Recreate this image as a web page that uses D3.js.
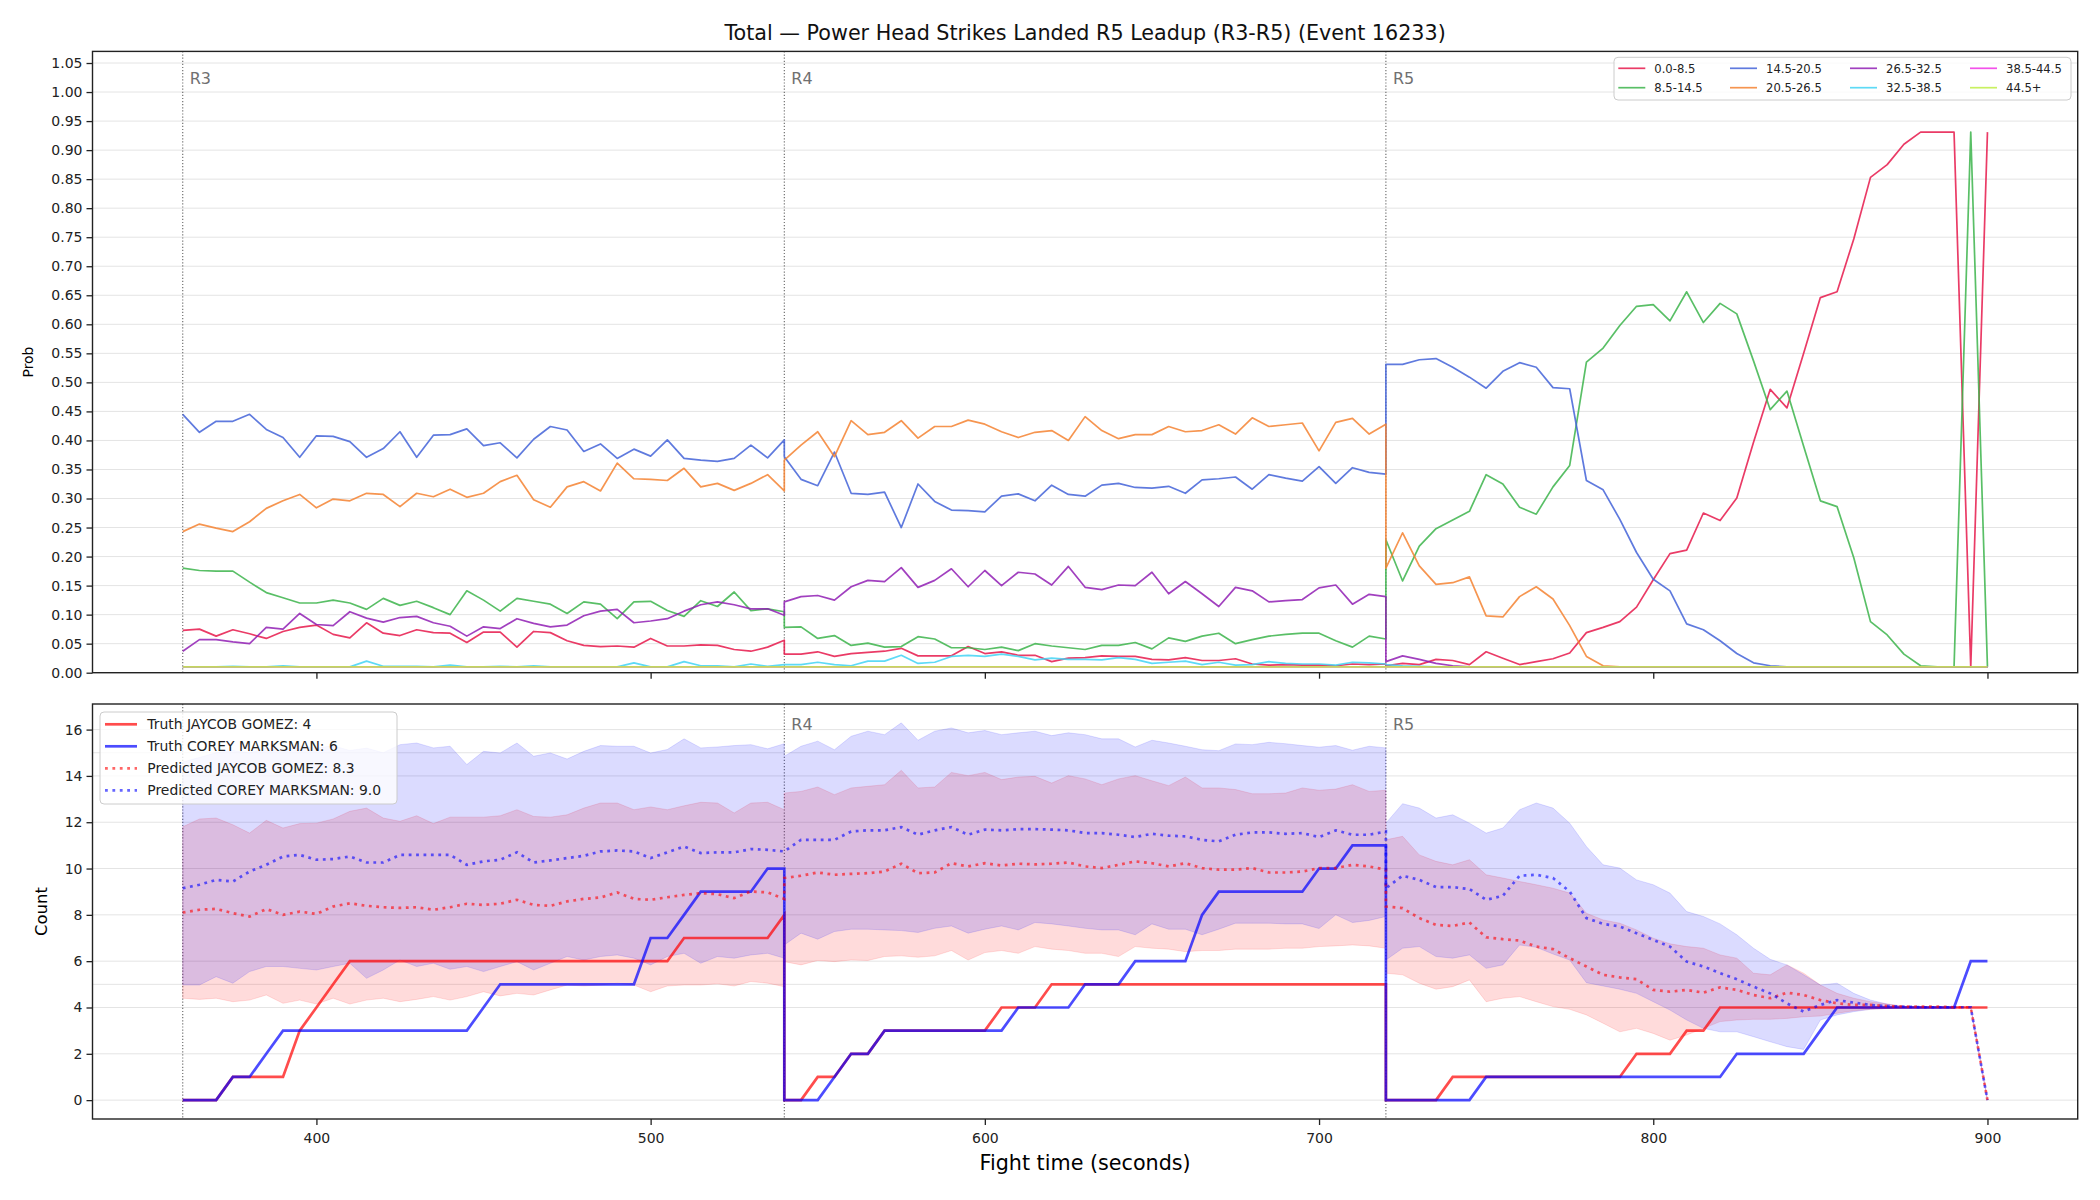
<!DOCTYPE html>
<html>
<head>
<meta charset="utf-8">
<script src="https://cdn.jsdelivr.net/npm/d3@7"></script>
<style>
  body { margin: 0; background: #fff; }
  svg { font-family: 'DejaVu Sans', sans-serif; }
  .grid line { stroke: #e4e4e4; stroke-width: 1; }
  .axis line { stroke: #222; stroke-width: 1.3; }
  .axis text { font-size: 14px; fill: #222; font-family: 'DejaVu Sans', sans-serif; }
  .frame { fill: none; stroke: #222; stroke-width: 1.4; }
  .round-line { stroke: #666; stroke-width: 1.1; stroke-dasharray: 1.2,1.9; }
  .round-label { font-size: 16px; fill: #707070; }
  .legend text { fill: #222; }
</style>
</head>
<body>
<svg id="chart"></svg>
<script>
// ---- sample times (every 5 s, each round restarts at its own boundary) ----
const roundNames = ['R3', 'R4', 'R5'];
const roundStarts = [360, 540, 720];
const timesR3 = [360, 365, 370, 375, 380, 385, 390, 395, 400, 405, 410, 415, 420, 425, 430, 435, 440, 445, 450,
  455, 460, 465, 470, 475, 480, 485, 490, 495, 500, 505, 510, 515, 520, 525, 530, 535, 540];
const timesR4 = [540, 545, 550, 555, 560, 565, 570, 575, 580, 585, 590, 595, 600, 605, 610, 615, 620, 625, 630,
  635, 640, 645, 650, 655, 660, 665, 670, 675, 680, 685, 690, 695, 700, 705, 710, 715, 720];
const timesR5 = [720, 725, 730, 735, 740, 745, 750, 755, 760, 765, 770, 775, 780, 785, 790, 795, 800, 805, 810,
  815, 820, 825, 830, 835, 840, 845, 850, 855, 860, 865, 870, 875, 880, 885, 890, 895, 900];
const times = [...timesR3, ...timesR4, ...timesR5];

const timeTicks = [400, 500, 600, 700, 800, 900];
const probTicks = [0, 0.05, 0.1, 0.15, 0.2, 0.25, 0.3, 0.35, 0.4, 0.45, 0.5, 0.55, 0.6, 0.65, 0.7, 0.75,
  0.8, 0.85, 0.9, 0.95, 1.0, 1.05];
const countTicks = [0, 2, 4, 6, 8, 10, 12, 14, 16];
const countExtraGrid = [5, 15];

// ---- top panel: probability per total bucket ----
const bucketLabels = ['0.0-8.5', '8.5-14.5', '14.5-20.5', '20.5-26.5', '26.5-32.5', '32.5-38.5', '38.5-44.5', '44.5+'];
const bucketColors = ['#e6194b', '#3cb44b', '#4363d8', '#f58231', '#911eb4', '#42d4f4', '#f032e6', '#bfef45'];

const prob_0_8 = [
  0.073, 0.075, 0.063, 0.074, 0.067, 0.059, 0.071, 0.078, 0.082, 0.066, 0.060, 0.086, 0.068, 0.064, 0.074, 0.069, 0.068, 0.052, 0.070,
  0.070, 0.044, 0.071, 0.069, 0.055, 0.047, 0.045, 0.046, 0.044, 0.059, 0.046, 0.046, 0.048, 0.047, 0.040, 0.037, 0.044, 0.056,
  0.032, 0.032, 0.036, 0.028, 0.033, 0.035, 0.037, 0.042, 0.029, 0.029, 0.029, 0.045, 0.033, 0.036, 0.030, 0.030, 0.019, 0.025, 0.026,
  0.029, 0.028, 0.028, 0.023, 0.022, 0.026, 0.021, 0.021, 0.024, 0.015, 0.013, 0.014, 0.013, 0.013, 0.012, 0.015, 0.014, 0.015,
  0.012, 0.016, 0.014, 0.023, 0.021, 0.014, 0.036, 0.025, 0.014, 0.019, 0.024, 0.034, 0.069, 0.078, 0.088, 0.113, 0.160, 0.205, 0.211,
  0.275, 0.262, 0.301, 0.397, 0.488, 0.456, 0.550, 0.646, 0.656, 0.747, 0.853, 0.875, 0.910, 0.931, 0.931, 0.931, 0.010, 0.931];
const prob_8_14 = [
  0.180, 0.176, 0.175, 0.175, 0.156, 0.138, 0.129, 0.120, 0.120, 0.125, 0.120, 0.109, 0.128, 0.116, 0.123, 0.112, 0.100, 0.141, 0.125,
  0.106, 0.128, 0.123, 0.118, 0.102, 0.122, 0.118, 0.093, 0.122, 0.123, 0.107, 0.097, 0.124, 0.114, 0.139, 0.107, 0.110, 0.105,
  0.078, 0.079, 0.059, 0.064, 0.047, 0.051, 0.044, 0.045, 0.062, 0.058, 0.043, 0.043, 0.040, 0.044, 0.038, 0.050, 0.046, 0.043, 0.040,
  0.047, 0.047, 0.052, 0.041, 0.060, 0.054, 0.063, 0.068, 0.050, 0.057, 0.063, 0.066, 0.068, 0.068, 0.055, 0.044, 0.063, 0.058,
  0.229, 0.158, 0.218, 0.248, 0.263, 0.278, 0.341, 0.325, 0.285, 0.273, 0.320, 0.357, 0.535, 0.559, 0.598, 0.631, 0.634, 0.606, 0.656,
  0.603, 0.636, 0.618, 0.537, 0.453, 0.485, 0.390, 0.296, 0.286, 0.198, 0.088, 0.065, 0.032, 0.012, 0.010, 0.010, 0.931, 0.010];
const prob_14_20 = [
  0.445, 0.414, 0.433, 0.433, 0.445, 0.419, 0.405, 0.371, 0.408, 0.407, 0.398, 0.371, 0.386, 0.415, 0.371, 0.409, 0.410, 0.420, 0.391,
  0.396, 0.370, 0.402, 0.424, 0.418, 0.381, 0.394, 0.369, 0.385, 0.373, 0.401, 0.369, 0.366, 0.364, 0.369, 0.392, 0.370, 0.401,
  0.372, 0.333, 0.322, 0.380, 0.309, 0.307, 0.311, 0.250, 0.325, 0.295, 0.280, 0.279, 0.277, 0.304, 0.308, 0.296, 0.323, 0.307, 0.304,
  0.323, 0.326, 0.319, 0.318, 0.321, 0.309, 0.332, 0.334, 0.337, 0.316, 0.341, 0.335, 0.330, 0.355, 0.326, 0.353, 0.345, 0.342,
  0.531, 0.531, 0.539, 0.541, 0.526, 0.509, 0.490, 0.519, 0.534, 0.526, 0.491, 0.489, 0.331, 0.315, 0.264, 0.207, 0.161, 0.141, 0.084,
  0.074, 0.055, 0.033, 0.017, 0.012, 0.010, 0.010, 0.010, 0.010, 0.010, 0.010, 0.010, 0.010, 0.010, 0.010, 0.010, 0.010, 0.010];
const prob_20_26 = [
  0.243, 0.256, 0.249, 0.243, 0.260, 0.283, 0.296, 0.307, 0.284, 0.299, 0.296, 0.309, 0.307, 0.286, 0.309, 0.303, 0.316, 0.302, 0.309,
  0.329, 0.340, 0.298, 0.285, 0.320, 0.329, 0.313, 0.361, 0.334, 0.333, 0.331, 0.352, 0.320, 0.326, 0.314, 0.326, 0.341, 0.313,
  0.366, 0.392, 0.415, 0.372, 0.434, 0.410, 0.414, 0.434, 0.404, 0.424, 0.424, 0.435, 0.428, 0.415, 0.405, 0.414, 0.417, 0.400, 0.441,
  0.417, 0.403, 0.410, 0.410, 0.424, 0.415, 0.417, 0.427, 0.411, 0.439, 0.424, 0.427, 0.430, 0.382, 0.431, 0.438, 0.411, 0.428,
  0.180, 0.241, 0.184, 0.152, 0.155, 0.165, 0.098, 0.096, 0.131, 0.148, 0.127, 0.081, 0.028, 0.012, 0.010, 0.010, 0.010, 0.010, 0.010,
  0.010, 0.010, 0.010, 0.010, 0.010, 0.010, 0.010, 0.010, 0.010, 0.010, 0.010, 0.010, 0.010, 0.010, 0.010, 0.010, 0.010, 0.010];
const prob_26_32 = [
  0.037, 0.057, 0.057, 0.053, 0.050, 0.078, 0.075, 0.102, 0.083, 0.081, 0.105, 0.094, 0.087, 0.095, 0.097, 0.086, 0.080, 0.063, 0.079,
  0.076, 0.093, 0.085, 0.079, 0.082, 0.098, 0.106, 0.109, 0.086, 0.089, 0.093, 0.106, 0.117, 0.122, 0.117, 0.110, 0.110, 0.099,
  0.122, 0.131, 0.133, 0.125, 0.148, 0.159, 0.157, 0.181, 0.147, 0.159, 0.179, 0.148, 0.176, 0.150, 0.173, 0.170, 0.151, 0.183, 0.147,
  0.143, 0.151, 0.150, 0.173, 0.136, 0.157, 0.136, 0.114, 0.147, 0.141, 0.122, 0.124, 0.126, 0.146, 0.151, 0.118, 0.135, 0.131,
  0.019, 0.029, 0.023, 0.016, 0.012, 0.010, 0.010, 0.010, 0.010, 0.010, 0.010, 0.010, 0.010, 0.010, 0.010, 0.010, 0.010, 0.010, 0.010,
  0.010, 0.010, 0.010, 0.010, 0.010, 0.010, 0.010, 0.010, 0.010, 0.010, 0.010, 0.010, 0.010, 0.010, 0.010, 0.010, 0.010, 0.010];
const prob_32_38 = [
  0.010, 0.010, 0.010, 0.011, 0.010, 0.010, 0.012, 0.010, 0.010, 0.010, 0.010, 0.020, 0.011, 0.011, 0.011, 0.010, 0.013, 0.010, 0.010,
  0.011, 0.010, 0.012, 0.010, 0.010, 0.010, 0.010, 0.010, 0.017, 0.010, 0.010, 0.019, 0.012, 0.012, 0.010, 0.015, 0.011, 0.014,
  0.014, 0.014, 0.018, 0.014, 0.012, 0.020, 0.020, 0.030, 0.016, 0.018, 0.028, 0.030, 0.028, 0.032, 0.028, 0.022, 0.025, 0.023, 0.023,
  0.022, 0.026, 0.023, 0.016, 0.018, 0.020, 0.014, 0.018, 0.013, 0.014, 0.019, 0.016, 0.015, 0.015, 0.013, 0.018, 0.017, 0.015,
  0.014, 0.012, 0.011, 0.010, 0.010, 0.010, 0.010, 0.010, 0.010, 0.010, 0.010, 0.010, 0.010, 0.010, 0.010, 0.010, 0.010, 0.010, 0.010,
  0.010, 0.010, 0.010, 0.010, 0.010, 0.010, 0.010, 0.010, 0.010, 0.010, 0.010, 0.010, 0.010, 0.010, 0.010, 0.010, 0.010, 0.010];
const prob_38_44 = [
  0.010, 0.010, 0.010, 0.010, 0.010, 0.010, 0.010, 0.010, 0.010, 0.010, 0.010, 0.010, 0.010, 0.010, 0.010, 0.010, 0.010, 0.010, 0.010,
  0.010, 0.010, 0.010, 0.010, 0.010, 0.010, 0.010, 0.010, 0.010, 0.010, 0.010, 0.010, 0.010, 0.010, 0.010, 0.010, 0.010, 0.010,
  0.010, 0.010, 0.010, 0.010, 0.010, 0.010, 0.010, 0.010, 0.010, 0.010, 0.010, 0.010, 0.010, 0.010, 0.010, 0.010, 0.010, 0.010, 0.010,
  0.010, 0.010, 0.010, 0.010, 0.010, 0.010, 0.010, 0.010, 0.010, 0.010, 0.010, 0.010, 0.010, 0.010, 0.010, 0.010, 0.010, 0.010,
  0.010, 0.010, 0.010, 0.010, 0.010, 0.010, 0.010, 0.010, 0.010, 0.010, 0.010, 0.010, 0.010, 0.010, 0.010, 0.010, 0.010, 0.010, 0.010,
  0.010, 0.010, 0.010, 0.010, 0.010, 0.010, 0.010, 0.010, 0.010, 0.010, 0.010, 0.010, 0.010, 0.010, 0.010, 0.010, 0.010, 0.010];
const prob_44_up = [
  0.010, 0.010, 0.010, 0.010, 0.010, 0.010, 0.010, 0.010, 0.010, 0.010, 0.010, 0.010, 0.010, 0.010, 0.010, 0.010, 0.010, 0.010, 0.010,
  0.010, 0.010, 0.010, 0.010, 0.010, 0.010, 0.010, 0.010, 0.010, 0.010, 0.010, 0.010, 0.010, 0.010, 0.010, 0.010, 0.010, 0.010,
  0.010, 0.010, 0.010, 0.010, 0.010, 0.010, 0.010, 0.010, 0.010, 0.010, 0.010, 0.010, 0.010, 0.010, 0.010, 0.010, 0.010, 0.010, 0.010,
  0.010, 0.010, 0.010, 0.010, 0.010, 0.010, 0.010, 0.010, 0.010, 0.010, 0.010, 0.010, 0.010, 0.010, 0.010, 0.010, 0.010, 0.010,
  0.010, 0.010, 0.010, 0.010, 0.010, 0.010, 0.010, 0.010, 0.010, 0.010, 0.010, 0.010, 0.010, 0.010, 0.010, 0.010, 0.010, 0.010, 0.010,
  0.010, 0.010, 0.010, 0.010, 0.010, 0.010, 0.010, 0.010, 0.010, 0.010, 0.010, 0.010, 0.010, 0.010, 0.010, 0.010, 0.010, 0.010];
const bucketSeries = [prob_0_8, prob_8_14, prob_14_20, prob_20_26, prob_26_32, prob_32_38, prob_38_44, prob_44_up];

// ---- bottom panel: counts per fighter ----
const fighterNames = ['JAYCOB GOMEZ', 'COREY MARKSMAN'];
const predictedTotals = [8.3, 9.0];

const truthGomez = [
  0, 0, 0, 1, 1, 1, 1, 3, 4, 5, 6, 6, 6, 6, 6, 6, 6, 6, 6, 6, 6, 6, 6, 6, 6, 6, 6, 6, 6, 6, 7, 7, 7, 7, 7, 7, 8,
  0, 0, 1, 1, 2, 2, 3, 3, 3, 3, 3, 3, 3, 4, 4, 4, 5, 5, 5, 5, 5, 5, 5, 5, 5, 5, 5, 5, 5, 5, 5, 5, 5, 5, 5, 5, 5,
  0, 0, 0, 0, 1, 1, 1, 1, 1, 1, 1, 1, 1, 1, 1, 2, 2, 2, 3, 3, 4, 4, 4, 4, 4, 4, 4, 4, 4, 4, 4, 4, 4, 4, 4, 4, 4];
const truthMarksman = [
  0, 0, 0, 1, 1, 2, 3, 3, 3, 3, 3, 3, 3, 3, 3, 3, 3, 3, 4, 5, 5, 5, 5, 5, 5, 5, 5, 5, 7, 7, 8, 9, 9, 9, 9, 10, 10,
  0, 0, 0, 1, 2, 2, 3, 3, 3, 3, 3, 3, 3, 3, 4, 4, 4, 4, 5, 5, 5, 6, 6, 6, 6, 8, 9, 9, 9, 9, 9, 9, 10, 10, 11, 11, 11,
  0, 0, 0, 0, 0, 0, 1, 1, 1, 1, 1, 1, 1, 1, 1, 1, 1, 1, 1, 1, 1, 2, 2, 2, 2, 2, 3, 4, 4, 4, 4, 4, 4, 4, 4, 6, 6];
const predGomez = [
  8.10, 8.22, 8.26, 8.07, 7.93, 8.25, 8.00, 8.14, 8.04, 8.36, 8.50, 8.39, 8.33, 8.30, 8.33, 8.22, 8.33, 8.48, 8.43,
  8.48, 8.65, 8.43, 8.39, 8.58, 8.69, 8.75, 8.97, 8.69, 8.65, 8.76, 8.86, 8.94, 8.89, 8.72, 9.01, 8.97, 8.69,
  9.59, 9.69, 9.83, 9.73, 9.77, 9.80, 9.87, 10.21, 9.80, 9.83, 10.23, 10.09, 10.23, 10.13, 10.21, 10.18, 10.21, 10.26, 10.09,
  10.02, 10.16, 10.31, 10.23, 10.09, 10.23, 10.02, 9.95, 9.95, 10.02, 9.83, 9.83, 9.87, 10.02, 10.02, 10.16, 10.09, 9.95,
  8.36, 8.29, 7.86, 7.57, 7.52, 7.67, 7.03, 6.95, 6.89, 6.63, 6.52, 6.13, 5.77, 5.41, 5.30, 5.22, 4.76, 4.68, 4.76,
  4.64, 4.87, 4.76, 4.54, 4.40, 4.64, 4.54, 4.32, 4.18, 4.11, 4.11, 4.06, 4.04, 4.04, 4.04, 4.01, 4.01, 0];
const predMarksman = [
  9.15, 9.30, 9.51, 9.44, 9.87, 10.16, 10.52, 10.59, 10.38, 10.41, 10.52, 10.26, 10.26, 10.59, 10.59, 10.59, 10.59, 10.16, 10.31,
  10.38, 10.70, 10.26, 10.35, 10.45, 10.55, 10.74, 10.78, 10.74, 10.45, 10.70, 10.95, 10.67, 10.70, 10.70, 10.84, 10.81, 10.74,
  10.74, 11.24, 11.24, 11.24, 11.60, 11.65, 11.65, 11.79, 11.46, 11.65, 11.79, 11.46, 11.68, 11.65, 11.70, 11.70, 11.68, 11.65, 11.53,
  11.53, 11.46, 11.36, 11.50, 11.42, 11.39, 11.24, 11.17, 11.46, 11.56, 11.56, 11.50, 11.53, 11.36, 11.65, 11.46, 11.46, 11.60,
  9.15, 9.69, 9.51, 9.20, 9.20, 9.11, 8.65, 8.82, 9.69, 9.73, 9.59, 9.01, 7.86, 7.61, 7.50, 7.21, 6.92, 6.63, 5.98,
  5.77, 5.48, 5.22, 4.90, 4.61, 4.18, 3.82, 4.11, 4.32, 4.21, 4.11, 4.06, 4.04, 4.01, 4.01, 4.01, 4.01, 0];
const gomezLow = [
  4.40, 4.35, 4.40, 4.25, 4.32, 4.54, 4.18, 4.32, 4.15, 4.40, 4.15, 4.32, 4.40, 4.25, 4.35, 4.47, 4.32, 4.47, 4.68,
  4.50, 4.61, 4.54, 4.76, 4.97, 4.93, 4.97, 5.05, 4.97, 4.68, 4.93, 4.97, 4.97, 5.02, 4.93, 5.12, 5.05, 4.90,
  5.98, 5.84, 6.03, 5.98, 6.05, 6.03, 6.20, 6.23, 6.17, 6.23, 6.46, 6.05, 6.37, 6.46, 6.34, 6.63, 6.52, 6.46, 6.34,
  6.34, 6.20, 6.63, 6.56, 6.52, 6.41, 6.46, 6.46, 6.52, 6.52, 6.52, 6.56, 6.56, 6.63, 6.66, 6.70, 6.66, 6.56,
  5.48, 5.41, 5.05, 4.79, 4.90, 5.19, 4.25, 4.40, 4.47, 4.25, 4.04, 3.92, 3.68, 3.32, 2.95, 3.10, 2.88, 2.59, 2.81,
  3.10, 3.39, 3.46, 3.49, 3.49, 3.53, 3.60, 3.63, 3.75, 3.86, 3.92, 3.96, 4.01, 4.01, 4.01, 4.01, 4.01, 0];
const gomezHigh = [
  11.80, 12.14, 12.18, 11.89, 11.53, 12.08, 11.75, 11.94, 11.96, 12.14, 12.47, 12.61, 12.18, 12.04, 12.28, 11.94, 12.22, 12.22, 12.22,
  12.28, 12.54, 12.25, 12.22, 12.32, 12.61, 12.83, 12.83, 12.54, 12.66, 12.54, 12.71, 12.86, 12.83, 12.40, 12.83, 12.86, 12.54,
  13.26, 13.33, 13.52, 13.19, 13.48, 13.55, 13.62, 14.24, 13.48, 13.52, 14.15, 14.01, 14.15, 13.84, 13.95, 13.98, 13.69, 14.01, 13.87,
  13.62, 13.87, 14.01, 13.79, 13.58, 13.95, 13.48, 13.48, 13.41, 13.23, 13.23, 13.26, 13.48, 13.38, 13.43, 13.62, 13.33, 13.38,
  11.24, 11.39, 10.59, 10.31, 10.16, 10.38, 9.73, 9.59, 9.44, 9.30, 9.15, 8.94, 8.07, 7.78, 7.64, 7.35, 6.99, 6.75, 6.63,
  6.56, 6.27, 6.13, 5.48, 5.41, 5.84, 5.48, 4.97, 4.61, 4.40, 4.25, 4.15, 4.06, 4.04, 4.01, 4.01, 4.01, 0];
const marksmanLow = [
  4.97, 4.97, 5.33, 5.05, 5.55, 5.77, 5.77, 5.69, 5.62, 5.77, 5.91, 5.26, 5.62, 6.05, 5.77, 5.91, 5.65, 5.77, 5.55,
  5.77, 5.98, 5.62, 5.91, 6.20, 6.05, 6.20, 6.27, 6.13, 5.84, 6.20, 6.34, 5.91, 6.20, 6.13, 6.27, 6.34, 6.13,
  6.70, 7.21, 6.95, 7.28, 7.38, 7.38, 7.35, 7.32, 7.24, 7.42, 7.52, 7.21, 7.38, 7.52, 7.35, 7.67, 7.61, 7.52, 7.42,
  7.35, 7.35, 7.14, 7.61, 7.38, 7.38, 7.14, 7.38, 7.64, 7.64, 7.64, 7.61, 7.61, 7.41, 8.00, 7.67, 7.76, 7.93,
  6.05, 6.56, 6.63, 6.20, 6.13, 6.27, 5.69, 5.84, 6.70, 6.60, 6.31, 6.05, 5.07, 4.93, 4.79, 4.61, 4.25, 3.89, 3.46,
  3.10, 2.95, 2.95, 2.74, 2.52, 2.31, 2.19, 3.46, 3.68, 3.82, 3.92, 3.96, 4.01, 4.01, 4.01, 4.01, 4.01, 0];
const marksmanHigh = [
  14.60, 14.80, 15.00, 15.10, 15.00, 15.20, 15.10, 15.30, 15.20, 15.30, 15.10, 15.20, 15.00, 15.35, 15.42, 15.21, 15.28, 14.49, 15.06,
  14.99, 15.42, 14.85, 14.99, 14.73, 15.06, 15.31, 15.28, 15.28, 14.99, 15.14, 15.60, 15.21, 15.25, 15.31, 15.35, 15.17, 15.39,
  14.85, 15.28, 15.50, 15.13, 15.71, 15.93, 15.78, 16.29, 15.54, 15.93, 16.07, 15.86, 15.96, 15.78, 15.86, 15.93, 15.74, 15.86, 15.78,
  15.60, 15.60, 15.25, 15.54, 15.42, 15.28, 15.13, 15.09, 15.38, 15.35, 15.45, 15.39, 15.31, 15.24, 15.31, 15.11, 15.28, 15.21,
  11.96, 12.80, 12.61, 12.18, 12.32, 11.96, 11.53, 11.75, 12.54, 12.83, 12.61, 11.96, 10.95, 10.16, 10.02, 9.51, 9.30, 8.94, 8.14,
  7.93, 7.61, 7.14, 6.56, 6.08, 5.84, 5.41, 4.97, 5.05, 4.61, 4.32, 4.15, 4.04, 4.01, 4.01, 4.01, 4.01, 0];

class LeadupChart {

  constructor(_config) {
    this.config = {
      parentElement: _config.parentElement,
      containerWidth: _config.containerWidth || 2100,
      containerHeight: _config.containerHeight || 1200,
      plotLeft: 92.5,
      plotRight: 2077.7,
      probPanel: {top: 51.4, bottom: 672.7},
      countPanel: {top: 704, bottom: 1119},
    };
    this.initVis();
  }

  initVis() {
    let vis = this;
    const cfg = vis.config;

    vis.svg = d3.select(cfg.parentElement)
        .attr('width', cfg.containerWidth)
        .attr('height', cfg.containerHeight);

    vis.xScale = d3.scaleLinear()
        .domain([333, 927])
        .range([cfg.plotLeft, cfg.plotRight]);

    vis.probScale = d3.scaleLinear()
        .domain([0, 1.07])
        .range([cfg.probPanel.bottom, cfg.probPanel.top]);

    vis.countScale = d3.scaleLinear()
        .domain([-0.815, 17.105])
        .range([cfg.countPanel.bottom, cfg.countPanel.top]);

    // title
    vis.svg.append('text')
        .attr('x', (cfg.plotLeft + cfg.plotRight) / 2)
        .attr('y', 40)
        .attr('text-anchor', 'middle')
        .style('font-size', '20.7px')
        .style('fill', '#111')
        .text('Total — Power Head Strikes Landed R5 Leadup (R3-R5) (Event 16233)');

    vis.renderProb();
    vis.renderCount();
  }

  drawPanelBase(panel, yScale, ticks, format, extraGrid, showXLabels) {
    let vis = this;
    const cfg = vis.config;
    const g = vis.svg.append('g');

    g.append('g').attr('class', 'grid')
      .selectAll('line')
      .data(ticks.concat(extraGrid))
      .join('line')
        .attr('x1', cfg.plotLeft)
        .attr('x2', cfg.plotRight)
        .attr('y1', d => yScale(d))
        .attr('y2', d => yScale(d));

    const yAxis = d3.axisLeft(yScale)
        .tickValues(ticks)
        .tickFormat(format)
        .tickSize(6)
        .tickPadding(4);

    g.append('g')
        .attr('class', 'axis')
        .attr('transform', `translate(${cfg.plotLeft},0)`)
        .call(yAxis)
        .call(a => a.select('.domain').remove());

    const xAxis = d3.axisBottom(vis.xScale)
        .tickValues(timeTicks)
        .tickSize(6)
        .tickPadding(8)
        .tickFormat(showXLabels ? d3.format('d') : () => '');

    g.append('g')
        .attr('class', 'axis')
        .attr('transform', `translate(0,${panel.bottom})`)
        .call(xAxis)
        .call(a => a.select('.domain').remove());

    g.selectAll('.axis text').attr('font-size', null);

    // round boundaries
    g.selectAll('.round-line')
      .data(roundStarts)
      .join('line')
        .attr('class', 'round-line')
        .attr('x1', d => vis.xScale(d))
        .attr('x2', d => vis.xScale(d))
        .attr('y1', panel.top)
        .attr('y2', panel.bottom);

    return g;
  }

  renderProb() {
    let vis = this;
    const cfg = vis.config;
    const panel = cfg.probPanel;

    const g = vis.drawPanelBase(panel, vis.probScale, probTicks, d3.format('.2f'), [], false);

    g.selectAll('.round-label')
      .data(roundStarts)
      .join('text')
        .attr('class', 'round-label')
        .attr('x', d => vis.xScale(d) + 7)
        .attr('y', 84)
        .text((d, i) => roundNames[i]);

    const line = d3.line()
        .x((d, i) => vis.xScale(times[i]))
        .y(d => vis.probScale(d));

    g.append('g').selectAll('path')
      .data(bucketSeries)
      .join('path')
        .attr('d', d => line(d))
        .attr('fill', 'none')
        .attr('stroke', (d, i) => bucketColors[i])
        .attr('stroke-opacity', 0.85)
        .attr('stroke-width', 1.7)
        .attr('stroke-linejoin', 'round');

    g.append('rect')
        .attr('class', 'frame')
        .attr('x', cfg.plotLeft)
        .attr('y', panel.top)
        .attr('width', cfg.plotRight - cfg.plotLeft)
        .attr('height', panel.bottom - panel.top);

    vis.svg.append('text')
        .attr('transform', `translate(33,${(panel.top + panel.bottom) / 2}) rotate(-90)`)
        .attr('text-anchor', 'middle')
        .style('font-size', '13.9px')
        .text('Prob');

    // legend, 4 columns x 2 rows
    const legend = vis.svg.append('g').attr('class', 'legend');
    legend.append('rect')
        .attr('x', 1614).attr('y', 57.3)
        .attr('width', 457).attr('height', 42.7)
        .attr('rx', 4)
        .attr('fill', '#fff').attr('fill-opacity', 0.8)
        .attr('stroke', '#cccccc');
    const colX = [1618.3, 1730, 1850, 1970];
    const rowY = [68.3, 87.7];
    bucketLabels.forEach((label, i) => {
      const cx = colX[Math.floor(i / 2)];
      const cy = rowY[i % 2];
      legend.append('line')
          .attr('x1', cx).attr('x2', cx + 27)
          .attr('y1', cy).attr('y2', cy)
          .attr('stroke', bucketColors[i])
          .attr('stroke-opacity', 0.85)
          .attr('stroke-width', 1.7);
      legend.append('text')
          .attr('x', cx + 36).attr('y', cy + 4.2)
          .style('font-size', '11.6px')
          .text(label);
    });
  }

  renderCount() {
    let vis = this;
    const cfg = vis.config;
    const panel = cfg.countPanel;

    const g = vis.drawPanelBase(panel, vis.countScale, countTicks, d3.format('d'), countExtraGrid, true);

    // R3 label sits under the legend here, so only the later rounds are labelled
    g.selectAll('.round-label')
      .data(roundStarts.slice(1))
      .join('text')
        .attr('class', 'round-label')
        .attr('x', d => vis.xScale(d) + 7)
        .attr('y', 730)
        .text((d, i) => roundNames[i + 1]);

    const band = (lo, hi) => d3.area()
        .x((d, i) => vis.xScale(times[i]))
        .y0((d, i) => vis.countScale(lo[i]))
        .y1((d, i) => vis.countScale(hi[i]))(times);

    const bands = [
      {lo: gomezLow, hi: gomezHigh, color: 'red'},
      {lo: marksmanLow, hi: marksmanHigh, color: 'blue'},
    ];
    g.append('g').selectAll('path')
      .data(bands)
      .join('path')
        .attr('d', d => band(d.lo, d.hi))
        .attr('fill', d => d.color)
        .attr('fill-opacity', 0.14)
        .attr('stroke', d => d.color)
        .attr('stroke-opacity', 0.12)
        .attr('stroke-width', 1);

    const line = d3.line()
        .x((d, i) => vis.xScale(times[i]))
        .y(d => vis.countScale(d));

    const series = [
      {values: truthGomez, color: 'red', dotted: false},
      {values: truthMarksman, color: 'blue', dotted: false},
      {values: predGomez, color: 'red', dotted: true},
      {values: predMarksman, color: 'blue', dotted: true},
    ];
    g.append('g').selectAll('path')
      .data(series)
      .join('path')
        .attr('d', d => line(d.values))
        .attr('fill', 'none')
        .attr('stroke', d => d.color)
        .attr('stroke-opacity', d => d.dotted ? 0.6 : 0.7)
        .attr('stroke-width', 2.7)
        .attr('stroke-dasharray', d => d.dotted ? '2.8,4.6' : null);

    g.append('rect')
        .attr('class', 'frame')
        .attr('x', cfg.plotLeft)
        .attr('y', panel.top)
        .attr('width', cfg.plotRight - cfg.plotLeft)
        .attr('height', panel.bottom - panel.top);

    vis.svg.append('text')
        .attr('transform', `translate(47,${(panel.top + panel.bottom) / 2}) rotate(-90)`)
        .attr('text-anchor', 'middle')
        .style('font-size', '16.5px')
        .text('Count');

    vis.svg.append('text')
        .attr('x', (cfg.plotLeft + cfg.plotRight) / 2)
        .attr('y', 1170)
        .attr('text-anchor', 'middle')
        .style('font-size', '20.7px')
        .text('Fight time (seconds)');

    // legend
    const entries = [
      {label: `Truth ${fighterNames[0]}: ${truthGomez[truthGomez.length - 1]}`, color: 'red', dotted: false},
      {label: `Truth ${fighterNames[1]}: ${truthMarksman[truthMarksman.length - 1]}`, color: 'blue', dotted: false},
      {label: `Predicted ${fighterNames[0]}: ${predictedTotals[0].toFixed(1)}`, color: 'red', dotted: true},
      {label: `Predicted ${fighterNames[1]}: ${predictedTotals[1].toFixed(1)}`, color: 'blue', dotted: true},
    ];
    const legend = vis.svg.append('g').attr('class', 'legend');
    legend.append('rect')
        .attr('x', 100).attr('y', 712)
        .attr('width', 297).attr('height', 92)
        .attr('rx', 4)
        .attr('fill', '#fff').attr('fill-opacity', 0.8)
        .attr('stroke', '#cccccc');
    entries.forEach((e, i) => {
      const cy = 724.3 + i * 22;
      legend.append('line')
          .attr('x1', 105).attr('x2', 137)
          .attr('y1', cy).attr('y2', cy)
          .attr('stroke', e.color)
          .attr('stroke-opacity', e.dotted ? 0.6 : 0.7)
          .attr('stroke-width', 2.7)
          .attr('stroke-dasharray', e.dotted ? '2.8,4.6' : null);
      legend.append('text')
          .attr('x', 147.3).attr('y', cy + 5)
          .style('font-size', '13.9px')
          .text(e.label);
    });
  }
}

new LeadupChart({parentElement: '#chart'});
</script>
</body>
</html>
